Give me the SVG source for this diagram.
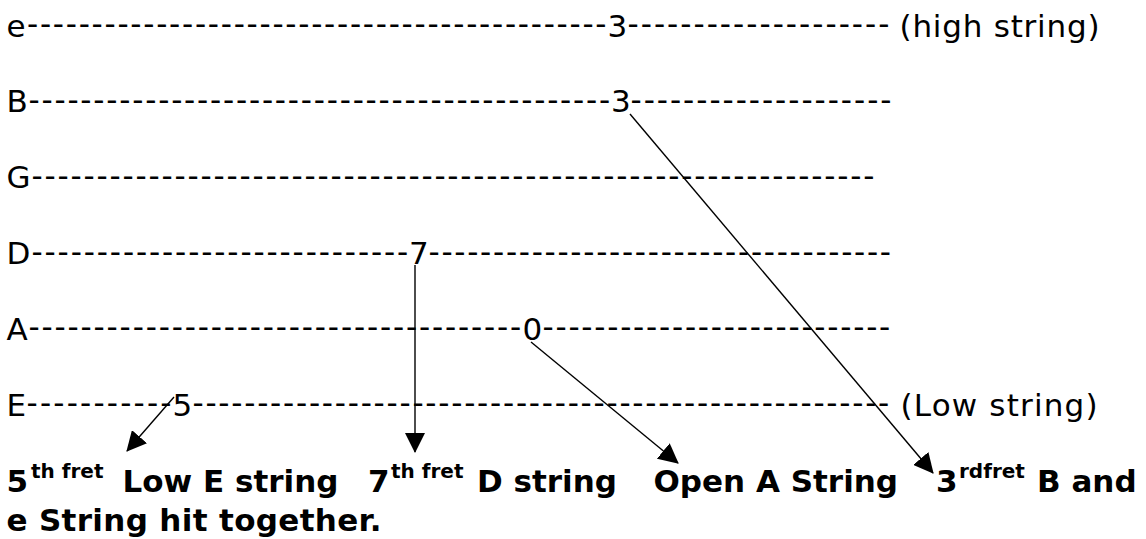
<svg xmlns="http://www.w3.org/2000/svg" width="1146" height="539" viewBox="0 0 1146 539">
<style>
.t{font-family:"DejaVu Sans","Verdana",sans-serif;font-size:31px;fill:#000}
.d{font-family:"DejaVu Sans","Verdana",sans-serif;font-size:31px;fill:#000}
.b{font-family:"DejaVu Sans","Verdana",sans-serif;font-size:31px;font-weight:bold;fill:#000}
.s{font-family:"DejaVu Sans","Verdana",sans-serif;font-size:20px;font-weight:bold;fill:#000}
.c{stroke:#000;stroke-width:1.4;fill:none;marker-end:url(#ah)}
</style>
<defs>
<marker id="ah" markerUnits="userSpaceOnUse" markerWidth="20" markerHeight="20" refX="19" refY="10" orient="auto">
<path d="M0,0 L20,10 L0,20 z" fill="#000"/>
</marker>
</defs>
<rect width="1146" height="539" fill="#fff"/>
<g id="string-e">
<text class="t" x="6.5" y="36.5">e</text>
<text class="d" x="27" y="33.5" style="letter-spacing:1.73px">---------------------------------------------</text>
<text class="t" x="607.6" y="36.5">3</text>
<text class="d" x="627.5" y="33.5" style="letter-spacing:2.01px">--------------------</text>
<text class="t" x="899.5" y="36.5" textLength="200" lengthAdjust="spacing">(high string)</text>
</g>
<g id="string-B">
<text class="t" x="6.5" y="112.3">B</text>
<text class="d" x="28.5" y="109.5" style="letter-spacing:1.78px">---------------------------------------------</text>
<text class="t" x="611" y="112.3">3</text>
<text class="d" x="630.5" y="109.5" style="letter-spacing:1.96px">--------------------</text>
</g>
<g id="string-G">
<text class="t" x="6.5" y="188.1">G</text>
<text class="d" x="31.5" y="185.5" style="letter-spacing:1.81px">-----------------------------------------------------------------</text>
</g>
<g id="string-D">
<text class="t" x="6.5" y="263.9">D</text>
<text class="d" x="31.5" y="261.5" style="letter-spacing:1.87px">-----------------------------</text>
<text class="t" x="409" y="263.9">7</text>
<text class="d" x="428.5" y="261.5" style="letter-spacing:1.71px">------------------------------------</text>
</g>
<g id="string-A">
<text class="t" x="6.5" y="339.7">A</text>
<text class="d" x="28.5" y="336.5" style="letter-spacing:1.83px">--------------------------------------</text>
<text class="t" x="522.6" y="339.7">0</text>
<text class="d" x="542.5" y="336.5" style="letter-spacing:1.76px">---------------------------</text>
</g>
<g id="string-E">
<text class="t" x="6.5" y="415.5">E</text>
<text class="d" x="26.5" y="412.5" style="letter-spacing:2.19px">-----------</text>
<text class="t" x="172.6" y="415.5">5</text>
<text class="d" x="192.5" y="412.5" style="letter-spacing:1.75px">------------------------------------------------------</text>
<text class="t" x="900.5" y="415.5" textLength="197" lengthAdjust="spacing">(Low string)</text>
</g>
<g id="label-5th">
<text class="b" x="6.5" y="492">5</text>
<text class="s" x="31" y="478">th fret</text>
<text class="b" x="122.5" y="492">Low E string</text>
</g>
<g id="label-7th">
<text class="b" x="368" y="492">7</text>
<text class="s" x="391" y="478">th fret</text>
<text class="b" x="477" y="492">D string</text>
</g>
<g id="label-open">
<text class="b" x="653.5" y="492">Open A String</text>
</g>
<g id="label-3rd">
<text class="b" x="936" y="492">3</text>
<text class="s" x="959" y="478">rdfret</text>
<text class="b" x="1037" y="492">B and</text>
<text class="b" x="6.5" y="531" textLength="375" lengthAdjust="spacing">e String hit together.</text>
</g>
<g id="connectors">
<line class="c" x1="174" y1="397" x2="127" y2="451"/>
<line class="c" x1="415" y1="265" x2="415" y2="452"/>
<line class="c" x1="531" y1="342" x2="678" y2="463"/>
<line class="c" x1="630" y1="114" x2="933" y2="473"/>
</g>
</svg>
